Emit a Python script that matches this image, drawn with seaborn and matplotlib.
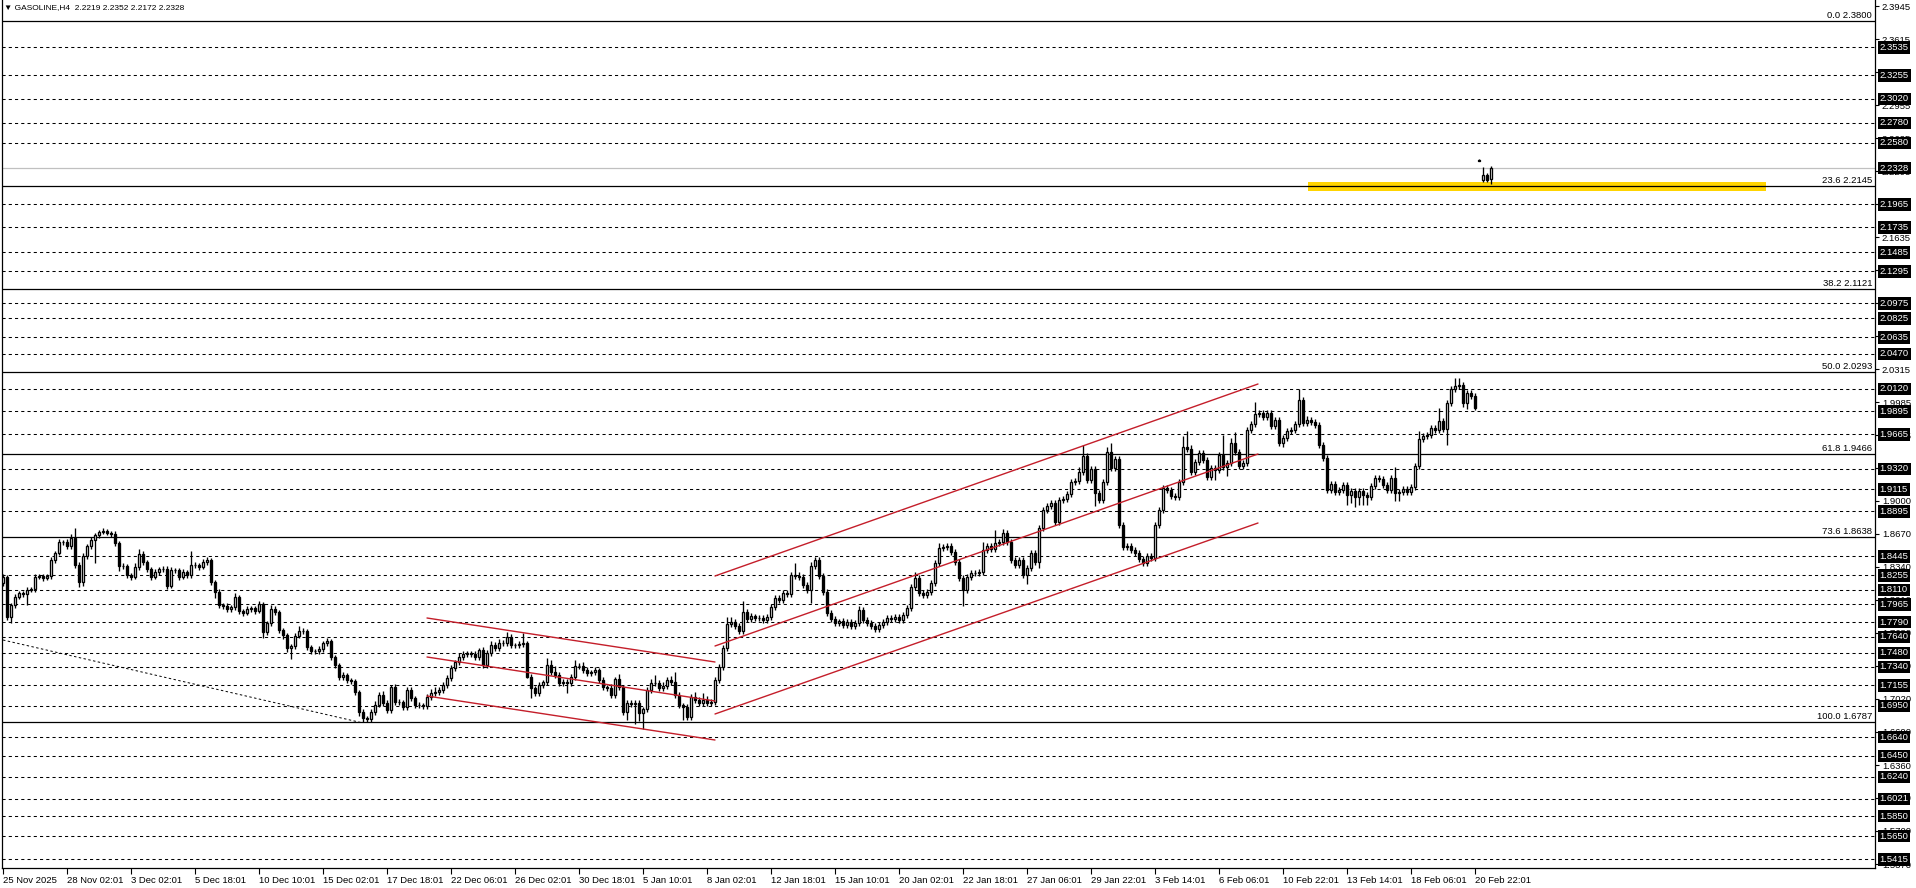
import numpy as np
import pandas as pd
import matplotlib
matplotlib.use("Agg")
import matplotlib.pyplot as plt
import seaborn as sns
from matplotlib.patches import Rectangle

# ---------------- data ----------------
header_text = "GASOLINE,H4  2.2219 2.2352 2.2172 2.2328"

close = [
    1.824,1.784,1.796,1.804,1.808,1.807,1.811,1.812,1.824,1.825,1.823,1.825,1.841,1.848,1.859,1.859,1.855,1.863,1.836,1.819,
    1.845,1.855,1.861,1.866,1.869,1.870,1.868,1.867,1.858,1.835,1.835,1.826,1.824,1.834,1.847,1.839,1.832,1.824,1.829,1.832,
    1.832,1.815,1.831,1.831,1.824,1.829,1.826,1.836,1.836,1.834,1.839,1.841,1.819,1.809,1.796,1.795,1.792,1.794,1.804,1.790,
    1.788,1.792,1.793,1.790,1.797,1.769,1.778,1.792,1.789,1.771,1.766,1.753,1.755,1.765,1.770,1.770,1.754,1.750,1.750,1.752,
    1.758,1.760,1.744,1.736,1.724,1.726,1.721,1.720,1.709,1.689,1.683,1.682,1.689,1.696,1.706,1.698,1.691,1.714,1.699,1.699,
    1.694,1.711,1.703,1.696,1.696,1.695,1.704,1.708,1.709,1.711,1.716,1.723,1.733,1.739,1.744,1.747,1.748,1.747,1.744,1.751,
    1.736,1.748,1.756,1.753,1.758,1.758,1.764,1.756,1.756,1.757,1.758,1.724,1.713,1.708,1.716,1.719,1.736,1.729,1.726,1.718,
    1.719,1.718,1.724,1.735,1.735,1.731,1.728,1.729,1.731,1.721,1.714,1.713,1.706,1.722,1.714,1.689,1.698,1.697,1.698,1.688,
    1.692,1.711,1.718,1.718,1.713,1.715,1.721,1.719,1.706,1.696,1.694,1.684,1.704,1.701,1.698,1.701,1.698,1.699,1.721,1.734,
    1.753,1.777,1.779,1.775,1.770,1.789,1.782,1.785,1.783,1.783,1.781,1.784,1.794,1.803,1.801,1.808,1.807,1.826,1.825,1.824,
    1.816,1.811,1.835,1.841,1.825,1.809,1.788,1.782,1.778,1.780,1.776,1.779,1.775,1.778,1.791,1.781,1.778,1.775,1.772,1.776,
    1.779,1.783,1.782,1.784,1.781,1.786,1.793,1.814,1.823,1.808,1.806,1.809,1.818,1.838,1.853,1.854,1.855,1.849,1.839,1.823,
    1.811,1.824,1.828,1.828,1.829,1.851,1.855,1.852,1.858,1.859,1.868,1.859,1.841,1.836,1.841,1.826,1.833,1.848,1.839,1.873,
    1.891,1.895,1.898,1.879,1.901,1.902,1.907,1.919,1.920,1.929,1.945,1.921,1.932,1.908,1.901,1.919,1.949,1.933,1.942,1.876,
    1.854,1.855,1.851,1.848,1.842,1.838,1.845,1.843,1.876,1.891,1.913,1.911,1.905,1.904,1.919,1.954,1.952,1.929,1.939,1.948,
    1.941,1.924,1.933,1.931,1.946,1.934,1.938,1.958,1.949,1.935,1.938,1.971,1.977,1.987,1.988,1.984,1.988,1.975,1.981,1.958,
    1.963,1.970,1.971,1.977,2.001,1.978,1.981,1.979,1.976,1.956,1.943,1.911,1.917,1.909,1.911,1.916,1.906,1.910,1.904,1.910,
    1.906,1.904,1.915,1.923,1.922,1.916,1.911,1.923,1.908,1.909,1.912,1.909,1.914,1.935,1.962,1.965,1.966,1.973,1.971,1.980,
    1.972,1.998,2.012,2.015,2.016,1.998,2.008,2.005,1.993,2.240,2.226,2.221,2.2328,
]

# wick lengths in thousandths of a price unit
upper_wick = [
    3,2,2,3,2,2,3,2,3,2,2,2,3,2,3,2,3,4,10,3,
    3,2,3,2,2,3,2,2,3,2,3,2,2,4,5,3,2,2,3,2,
    3,3,3,2,2,3,2,14,3,2,3,3,2,2,3,2,3,2,4,2,
    2,3,2,2,3,2,2,4,3,2,2,2,2,3,5,3,2,2,2,3,
    2,3,2,2,2,3,2,2,2,2,3,2,3,4,3,4,3,2,3,3,
    2,3,3,2,3,2,3,4,5,3,3,3,3,2,4,3,2,2,3,2,
    3,3,4,3,4,3,5,3,2,3,10,2,3,2,3,2,7,5,6,3,
    3,3,3,6,3,4,3,2,3,2,3,2,4,2,5,2,3,3,3,3,
    2,3,4,8,3,4,3,4,10,3,2,3,3,5,3,7,4,3,3,3,
    3,7,5,3,3,11,3,3,2,3,3,3,3,3,3,3,3,3,12,4,
    3,3,4,3,3,3,3,3,3,2,3,3,3,3,4,3,3,3,3,3,
    3,3,3,3,3,3,3,3,6,3,3,3,3,3,5,3,3,3,3,3,
    3,3,3,3,3,8,3,3,13,3,4,3,3,3,3,3,3,3,3,3,
    3,3,3,3,3,3,3,3,3,5,11,3,3,3,3,3,5,9,3,3,
    3,3,3,3,3,3,3,3,3,3,3,3,3,3,3,11,16,4,3,3,
    3,3,3,3,3,20,3,5,11,3,3,3,3,12,3,3,3,3,3,3,
    3,3,3,3,11,3,4,3,3,3,3,3,3,3,3,3,3,3,3,3,
    3,3,3,3,3,3,3,3,11,3,3,3,3,3,8,3,3,3,3,13,
    3,3,3,8,7,3,3,3,3,2,8,2,2.4,
]
lower_wick = [
    3,3,6,3,2,3,11,2,3,2,3,2,3,3,2,3,3,3,3,5,
    4,3,3,23,3,2,2,3,3,5,3,3,3,2,3,3,3,3,2,3,
    3,3,2,3,3,2,3,3,3,3,2,3,3,6,3,3,3,3,3,3,
    3,2,3,3,2,6,3,3,3,3,4,4,11,3,2,3,3,3,3,3,
    3,3,3,3,3,3,3,3,3,4,4,3,3,3,2,3,3,3,3,3,
    3,3,3,3,3,3,3,3,3,3,3,3,3,3,3,3,3,3,3,3,
    3,3,3,3,3,3,3,3,3,3,3,1,10,3,3,3,3,3,3,3,
    3,10,3,3,3,3,3,3,3,3,3,3,3,3,3,3,8,3,20,8,
    16,3,3,3,3,3,3,3,3,3,13,3,3,3,3,3,3,3,3,3,
    3,3,3,3,3,3,3,3,3,3,3,3,3,3,3,3,3,3,3,3,
    3,3,13,3,3,3,3,3,3,3,3,3,3,3,3,3,3,3,3,3,
    3,3,3,3,3,3,3,3,3,3,3,3,3,3,3,3,3,3,3,3,
    16,3,3,3,3,3,3,3,3,3,3,3,3,3,3,3,9,3,3,6,
    3,3,3,3,3,3,3,3,3,3,3,3,3,13,3,3,3,3,3,3,
    3,3,3,3,3,3,3,3,3,3,3,3,3,3,3,3,3,3,3,3,
    3,3,3,10,3,3,9,3,3,3,3,3,3,3,3,3,3,3,3,3,
    4,3,3,3,3,3,3,3,3,3,3,3,3,3,3,3,10,8,10,8,
    10,8,3,3,3,3,3,3,8,8,3,3,3,3,3,3,3,3,3,3,
    3,16,3,3,3,4,6,3,2,0.5,2,2,4.7,
]
# opens that differ from the previous close (session gaps / first bar)
open_override = {0: 1.818, 369: 2.2405, 370: 2.2205, 371: 2.226, 372: 2.2219}

date_labels = ["25 Nov 2025", "28 Nov 02:01", "3 Dec 02:01", "5 Dec 18:01", "10 Dec 10:01",
               "15 Dec 02:01", "17 Dec 18:01", "22 Dec 06:01", "26 Dec 02:01", "30 Dec 18:01",
               "5 Jan 10:01", "8 Jan 02:01", "12 Jan 18:01", "15 Jan 10:01", "20 Jan 02:01",
               "22 Jan 18:01", "27 Jan 06:01", "29 Jan 22:01", "3 Feb 14:01", "6 Feb 06:01",
               "10 Feb 22:01", "13 Feb 14:01", "18 Feb 06:01", "20 Feb 22:01"]
bars_per_label = 16

fib_levels = [0.0, 23.6, 38.2, 50.0, 61.8, 73.6, 100.0]
fib_prices = [2.3800, 2.2145, 2.1121, 2.0293, 1.9466, 1.8638, 1.6787]

dashed_levels = [2.3535, 2.3255, 2.3020, 2.2780, 2.2580, 2.1965, 2.1735, 2.1485, 2.1295,
                 2.0975, 2.0825, 2.0635, 2.0470, 2.0120, 1.9895, 1.9665, 1.9320, 1.9115,
                 1.8895, 1.8445, 1.8255, 1.8110, 1.7965, 1.7790, 1.7640, 1.7480, 1.7340,
                 1.7155, 1.6950, 1.6640, 1.6450, 1.6240, 1.6021, 1.5850, 1.5650, 1.5415]
current_price = 2.2328

axis_ticks = [2.3945, 2.3615, 2.3285, 2.2955, 2.2625, 2.2295, 2.1965, 2.1635, 2.1305,
              2.0975, 2.0645, 2.0315, 1.9985, 1.9655, 1.9330, 1.9000, 1.8670, 1.8340,
              1.8010, 1.7680, 1.7350, 1.7020, 1.6690, 1.6360, 1.6030, 1.5700, 1.5370]

# channel / trend lines: (bar index, price) endpoints
desc_channel = {"upper": [(106, 1.783), (178, 1.739)],
                "middle": [(106, 1.744), (178, 1.700)],
                "lower": [(106, 1.705), (178, 1.661)]}
asc_channel = {"upper": [(178, 1.825), (313.75, 2.017)],
               "middle": [(178, 1.755), (313.75, 1.947)],
               "lower": [(178, 1.687), (313.75, 1.878)]}
trend_line = [(0, 1.761), (90, 1.678)]
zone_bars = (326.25, 440.75)
zone_prices = (2.2100, 2.2190)

# ---------------- figure ----------------
sns.set_theme(style="white")
plt.rcParams["font.family"] = ["Liberation Sans", "DejaVu Sans"]
FS = 6.8

W, H = 1916, 888
fig = plt.figure(figsize=(W / 100, H / 100), dpi=100)
ax = fig.add_axes([2 / W, 20 / H, (1875 - 2) / W, (H - 20) / H])
ax.set_facecolor("white")

n = len(close)
idx = np.arange(n)
c = np.array(close, dtype=float)
o = np.r_[c[0], c[:-1]].copy()
for k, v in open_override.items():
    o[k] = v
top = np.maximum(o, c)
bot = np.minimum(o, c)
hi = top + np.array(upper_wick) / 1000.0
lo = bot - np.array(lower_wick) / 1000.0

df = pd.DataFrame({"bar": idx, "open": o, "close": c, "high": hi, "low": lo})

# horizontal levels
for lvl in dashed_levels:
    ax.axhline(lvl, color="black", lw=0.75, ls=(0, (3, 3)), zorder=1)
ax.axhline(current_price, color="#c0c0c0", lw=0.9, zorder=1)
ax.add_patch(Rectangle((zone_bars[0], zone_prices[0]), zone_bars[1] - zone_bars[0],
                       zone_prices[1] - zone_prices[0], facecolor="#FFD400",
                       edgecolor="none", zorder=1.5))
for lv, pr in zip(fib_levels, fib_prices):
    ax.axhline(pr, color="black", lw=0.9, zorder=2)
    ax.annotate(f"{lv:.1f} {pr:.4f}", xy=(1, pr), xycoords=ax.get_yaxis_transform(),
                xytext=(-2, 0.8), textcoords="offset points", ha="right", va="bottom",
                fontsize=FS, color="black", zorder=6)

# candles
ax.vlines(df["bar"], df["low"], df["high"], color="black", lw=0.95, zorder=3)
bull = df["close"] >= df["open"]
heights = (df["close"] - df["open"]).abs().clip(lower=0.0004)
ax.bar(df["bar"][bull], heights[bull], bottom=np.minimum(df["open"], df["close"])[bull],
       width=0.55, facecolor="white", edgecolor="black", linewidth=0.95, zorder=3.2)
ax.bar(df["bar"][~bull], heights[~bull], bottom=np.minimum(df["open"], df["close"])[~bull],
       width=0.55, facecolor="black", edgecolor="black", linewidth=0.95, zorder=3.2)

# channels drawn with seaborn
red = "#c41e2a"
for ch in (desc_channel, asc_channel):
    for name, pts in ch.items():
        d = pd.DataFrame(pts, columns=["bar", "price"])
        sns.lineplot(data=d, x="bar", y="price", color=red, lw=1.0, ax=ax, zorder=4)
d = pd.DataFrame(trend_line, columns=["bar", "price"])
sns.lineplot(data=d, x="bar", y="price", color="black", lw=0.7, ls=(0, (2.5, 2.5)), ax=ax, zorder=4)

# axes ranges
ax.set_xlim(-0.25, 468)
ax.set_ylim(1.533, 2.401)
ax.set_xlabel("")
ax.set_ylabel("")

# right price axis
ax.yaxis.tick_right()
ax.set_yticks(axis_ticks)
ax.set_yticklabels([f"{t:.4f}" for t in axis_ticks])
ax.tick_params(axis="y", which="both", right=True, left=False, length=3, width=0.8,
               pad=2, labelsize=FS, colors="black", direction="out")

# bottom time axis
xt = np.arange(len(date_labels)) * bars_per_label
ax.set_xticks(xt)
ax.set_xticklabels(date_labels)
for lbl in ax.get_xticklabels():
    lbl.set_ha("left")
ax.tick_params(axis="x", bottom=True, length=4, width=0.8, pad=1.5, labelsize=FS,
               colors="black", direction="out")

for s in ["left", "bottom", "right"]:
    ax.spines[s].set_visible(True)
    ax.spines[s].set_color("black")
    ax.spines[s].set_linewidth(0.9)
ax.spines["top"].set_visible(False)
ax.grid(False)

# highlighted price labels
for lvl in dashed_levels + [current_price]:
    ax.annotate(f"{lvl:.4f}", xy=(1, lvl), xycoords=ax.get_yaxis_transform(),
                xytext=(3.4, 0), textcoords="offset points", ha="left", va="center",
                fontsize=FS, color="white", annotation_clip=False, zorder=10,
                bbox=dict(boxstyle="square,pad=0.18", fc="black", ec="none"))

fig.text(4 / W, 1 - 8 / H, "\u25BC " + header_text, fontsize=6.0, va="center", ha="left",
         color="black")

fig.savefig("out.png", dpi=100)
